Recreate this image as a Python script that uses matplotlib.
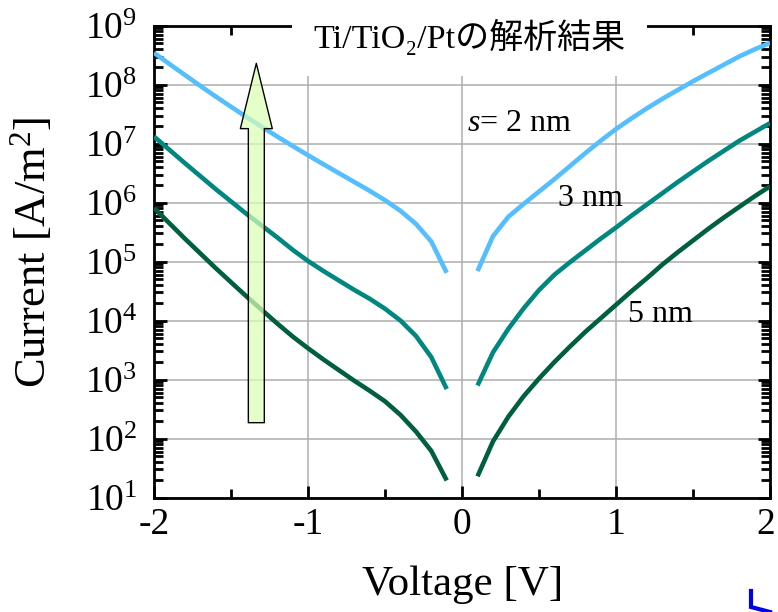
import numpy as np
import matplotlib.pyplot as plt
from matplotlib.lines import Line2D
from matplotlib.ticker import FixedLocator, NullFormatter
from matplotlib.transforms import ScaledTranslation

plt.rcParams['font.family'] = ['Liberation Serif', 'DejaVu Serif', 'Noto Sans CJK JP']
plt.rcParams['mathtext.fontset'] = 'custom'
plt.rcParams['mathtext.rm'] = 'Liberation Serif'
plt.rcParams['mathtext.it'] = 'Liberation Serif:italic'

# 電圧 [V]（0 V 付近は計算なし）
v_neg = [-2.0, -1.9, -1.8, -1.7, -1.6, -1.5, -1.4, -1.3, -1.2, -1.1,
         -1.0, -0.9, -0.8, -0.7, -0.6, -0.5, -0.4, -0.3, -0.2, -0.1]
v_pos = [0.1, 0.2, 0.3, 0.4, 0.5, 0.6, 0.7, 0.8, 0.9, 1.0,
         1.1, 1.2, 1.3, 1.4, 1.5, 1.6, 1.7, 1.8, 1.9, 2.0]

# log10(電流密度 [A/m^2])  s = 2 nm
logj_2_neg = [8.54, 8.35, 8.165, 7.98, 7.80, 7.625, 7.453, 7.285, 7.12, 6.96,
              6.803, 6.65, 6.50, 6.35, 6.20, 6.04, 5.86, 5.64, 5.34, 4.81]
logj_2_pos = [4.84, 5.43, 5.76, 5.98, 6.19, 6.40, 6.62, 6.84, 7.05, 7.25,
              7.43, 7.60, 7.76, 7.91, 8.06, 8.20, 8.34, 8.48, 8.60, 8.71]
# s = 3 nm
logj_3_neg = [7.12, 6.895, 6.67, 6.45, 6.23, 6.02, 5.81, 5.61, 5.41, 5.20,
              5.01, 4.84, 4.68, 4.52, 4.37, 4.20, 4.00, 3.74, 3.38, 2.84]
logj_3_pos = [2.90, 3.46, 3.86, 4.21, 4.52, 4.78, 4.99, 5.19, 5.39, 5.58,
              5.78, 5.97, 6.16, 6.35, 6.53, 6.71, 6.88, 7.05, 7.20, 7.35]
# s = 5 nm
logj_5_neg = [5.91, 5.65, 5.39, 5.14, 4.89, 4.65, 4.41, 4.18, 3.95, 3.73,
              3.53, 3.34, 3.16, 2.98, 2.81, 2.63, 2.40, 2.12, 1.79, 1.29]
logj_5_pos = [1.36, 1.95, 2.37, 2.72, 3.02, 3.30, 3.56, 3.81, 4.04, 4.27,
              4.50, 4.72, 4.95, 5.16, 5.36, 5.56, 5.75, 5.93, 6.11, 6.28]

curves = [
    (logj_2_neg, logj_2_pos, '#55BEFF'),
    (logj_3_neg, logj_3_pos, '#00877F'),
    (logj_5_neg, logj_5_pos, '#005F3C'),
]

fig = plt.figure(figsize=(7.78, 6.12), dpi=100)
ax = fig.add_axes([0.198, 0.187, 0.792, 0.771])

for ln, lp, c in curves:
    ax.plot(v_neg, np.power(10.0, ln), color=c, lw=3.3, solid_capstyle='butt', zorder=3)
    ax.plot(v_pos, np.power(10.0, lp), color=c, lw=3.3, solid_capstyle='butt', zorder=3)

ax.set_yscale('log')
ax.set_xlim(-2, 2)
ax.set_ylim(1e1, 1e9)
ax.set_xticks([-2, -1, 0, 1, 2])
ax.set_xticklabels(['-2', '-1', '0', '1', '2'])
ax.set_xticks([-1.5, -0.5, 0.5, 1.5], minor=True)

decades = [10.0 ** k for k in range(1, 10)]
ax.yaxis.set_major_locator(FixedLocator(decades))
ax.yaxis.set_minor_locator(FixedLocator([m * d for d in decades[:-1] for m in range(2, 10)]))
ax.yaxis.set_minor_formatter(NullFormatter())

ax.grid(True, which='major', color='#ADADAD', lw=1.1)

ax.tick_params(which='both', direction='in', top=True, right=True,
               width=2.0, color='black')
ax.tick_params(which='major', length=9, labelsize=27)
ax.tick_params(which='minor', length=6.5)
ax.tick_params(axis='x', pad=7)
ax.tick_params(axis='y', pad=12)
for sp in ax.spines.values():
    sp.set_linewidth(2)

# 右端の "2" が図の外にはみ出さないよう少し左へ
last = ax.get_xticklabels()[-1]
last.set_transform(last.get_transform() + ScaledTranslation(-4 / 100, 0, fig.dpi_scale_trans))

ax.set_xlabel('Voltage [V]', fontsize=31)
ax.set_ylabel('Current [A/m$^2$]', fontsize=32)
ax.xaxis.set_label_coords(0.5, -0.143)
ax.yaxis.set_label_coords(-0.162, 0.52)

ax.text(0.512, 0.977, 'Ti/TiO₂/Ptの解析結果', transform=ax.transAxes,
        ha='center', va='center', fontsize=24.5, zorder=6,
        bbox=dict(boxstyle='square,pad=0.62', fc='white', ec='none'))

ax.text(0.03, 2.2e7, '$s$= 2 nm', fontsize=23, ha='left', va='center')
ax.text(0.62, 1.17e6, '3 nm', fontsize=23, ha='left', va='center')
ax.text(1.08, 1.26e4, '5 nm', fontsize=23, ha='left', va='center')

# 膜厚が薄くなる向きの矢印
ax.annotate('', xy=(-1.336, 2.3e8), xytext=(-1.336, 1.86e2),
            arrowprops=dict(arrowstyle='simple,head_length=4.7,head_width=2.3,tail_width=1.15',
                            mutation_scale=10, shrinkA=0, shrinkB=0,
                            fc=(0.86, 1.0, 0.71, 0.72), ec='black', lw=1.0),
            zorder=5)

# 右下の青いマーク
fig.add_artist(Line2D([751 / 778, 751 / 778, 770 / 778],
                      [1 - 591 / 612, 1 - 607 / 612, 1 - 612 / 612],
                      color='#0000EE', lw=3, solid_joinstyle='miter'))

fig.savefig('out.png', dpi=100)
